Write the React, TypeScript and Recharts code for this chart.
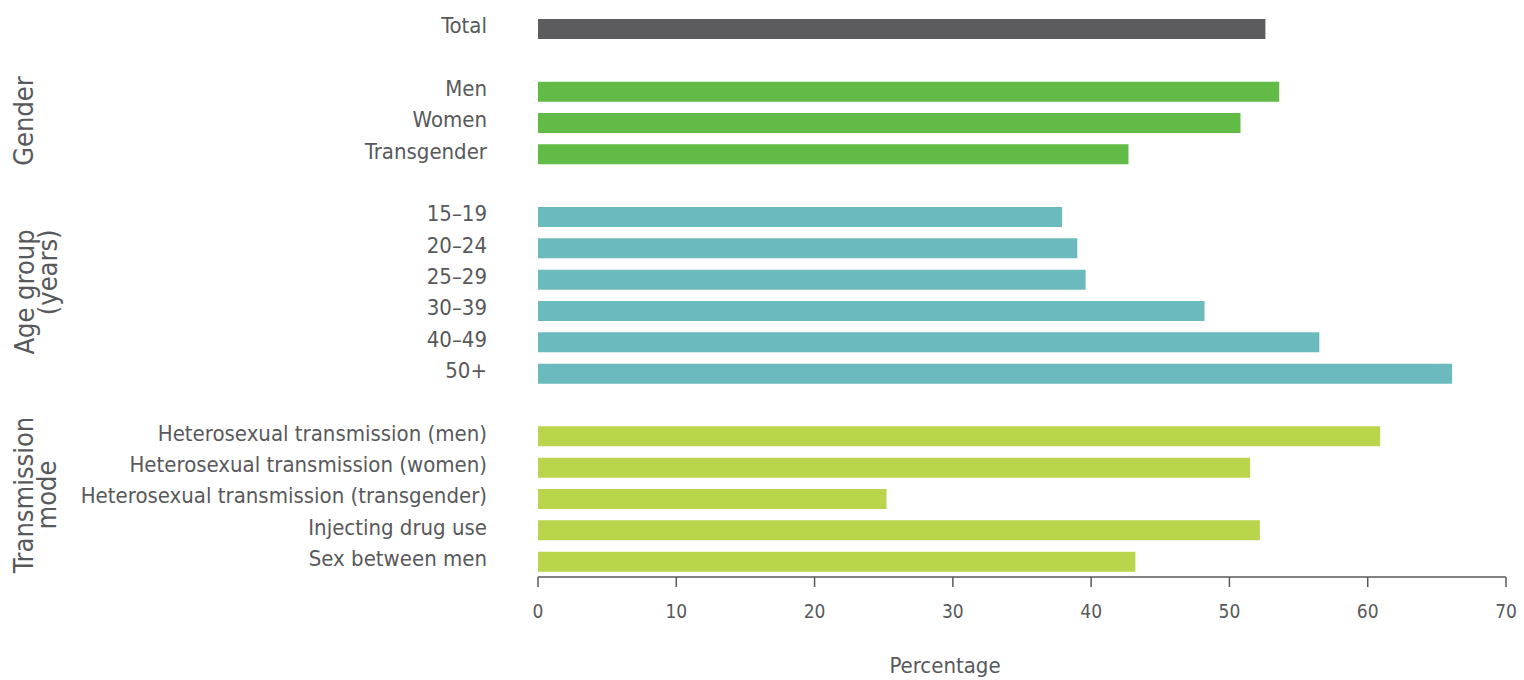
import { Bar, BarChart, Cell, XAxis, YAxis } from 'recharts';

// one row per bar, blank rows separate the groups
const rowLabels = [
  'Total',
  '',
  'Men',
  'Women',
  'Transgender',
  '',
  '15–19',
  '20–24',
  '25–29',
  '30–39',
  '40–49',
  '50+',
  '',
  'Heterosexual transmission (men)',
  'Heterosexual transmission (women)',
  'Heterosexual transmission (transgender)',
  'Injecting drug use',
  'Sex between men',
];

const rowValues: (number | null)[] = [
  52.6, null,
  53.6, 50.8, 42.7, null,
  37.9, 39.0, 39.6, 48.2, 56.5, 66.1, null,
  60.9, 51.5, 25.2, 52.2, 43.2,
];

const rowGroups = [
  'total', '',
  'gender', 'gender', 'gender', '',
  'age', 'age', 'age', 'age', 'age', 'age', '',
  'mode', 'mode', 'mode', 'mode', 'mode',
];

const xTicks = [0, 10, 20, 30, 40, 50, 60, 70];

const groupColors: Record<string, string> = {
  total: '#5c5c5e',
  gender: '#62bb46',
  age: '#6bbabd',
  mode: '#b8d54b',
};

const TEXT = '#58595b';
const FONT = '"Liberation Sans Narrow", "DejaVu Sans Condensed", sans-serif';

const data = rowLabels.map((label, i) => ({
  id: `row${i}`,
  label,
  value: rowValues[i],
  group: rowGroups[i],
}));

const sideLabel = (top: number, left: number, lines: string[], align: 'center' | 'right' = 'center') => (
  <div
    style={{
      position: 'absolute',
      left,
      top,
      width: 0,
      height: 0,
      fontFamily: FONT,
      fontSize: 27,
      color: TEXT,
    }}
  >
    <div
      style={{
        position: 'absolute',
        transform: 'translate(-50%, -50%) rotate(-90deg)',
        whiteSpace: 'nowrap',
        textAlign: align,
        lineHeight: '23px',
      }}
    >
      {lines.map(l => (
        <div key={l}>{l}</div>
      ))}
    </div>
  </div>
);

export default function App() {
  return (
    <div style={{ position: 'absolute', left: 0, top: 0, width: 1524, height: 680, background: '#fff' }}>
      <BarChart
        width={1524}
        height={680}
        data={data}
        layout="vertical"
        margin={{ top: 13, right: 18, left: 0, bottom: 3 }}
        barCategoryGap={0}
      >
        <XAxis
          type="number"
          domain={[0, 70]}
          ticks={xTicks}
          height={100}
          tickSize={10}
          tickMargin={18}
          axisLine={{ stroke: TEXT, strokeWidth: 1.5 }}
          tickLine={{ stroke: TEXT, strokeWidth: 1.5 }}
          tick={{ fill: TEXT, fontSize: 19, fontFamily: FONT }}
          label={{
            value: 'Percentage',
            position: 'insideBottom',
            offset: 4,
            dx: -77,
            fill: TEXT,
            fontSize: 22,
            fontFamily: FONT,
          }}
        />
        <YAxis
          type="category"
          dataKey="id"
          width={538}
          axisLine={false}
          tickLine={false}
          tickSize={0}
          tickMargin={51}
          interval={0}
          tickFormatter={(v: string) => data.find(d => d.id === v)?.label ?? ''}
          tick={{ fill: TEXT, fontSize: 22, fontFamily: FONT, dy: -3 }}
        />
        <Bar dataKey="value" barSize={20} isAnimationActive={false}>
          {data.map(d => (
            <Cell key={d.id} fill={groupColors[d.group] ?? 'transparent'} />
          ))}
        </Bar>
      </BarChart>
      {sideLabel(121, 23, ['Gender'])}
      {sideLabel(292, 36, ['Age group', '(years)'], 'right')}
      {sideLabel(495, 35, ['Transmission', 'mode'])}
    </div>
  );
}
